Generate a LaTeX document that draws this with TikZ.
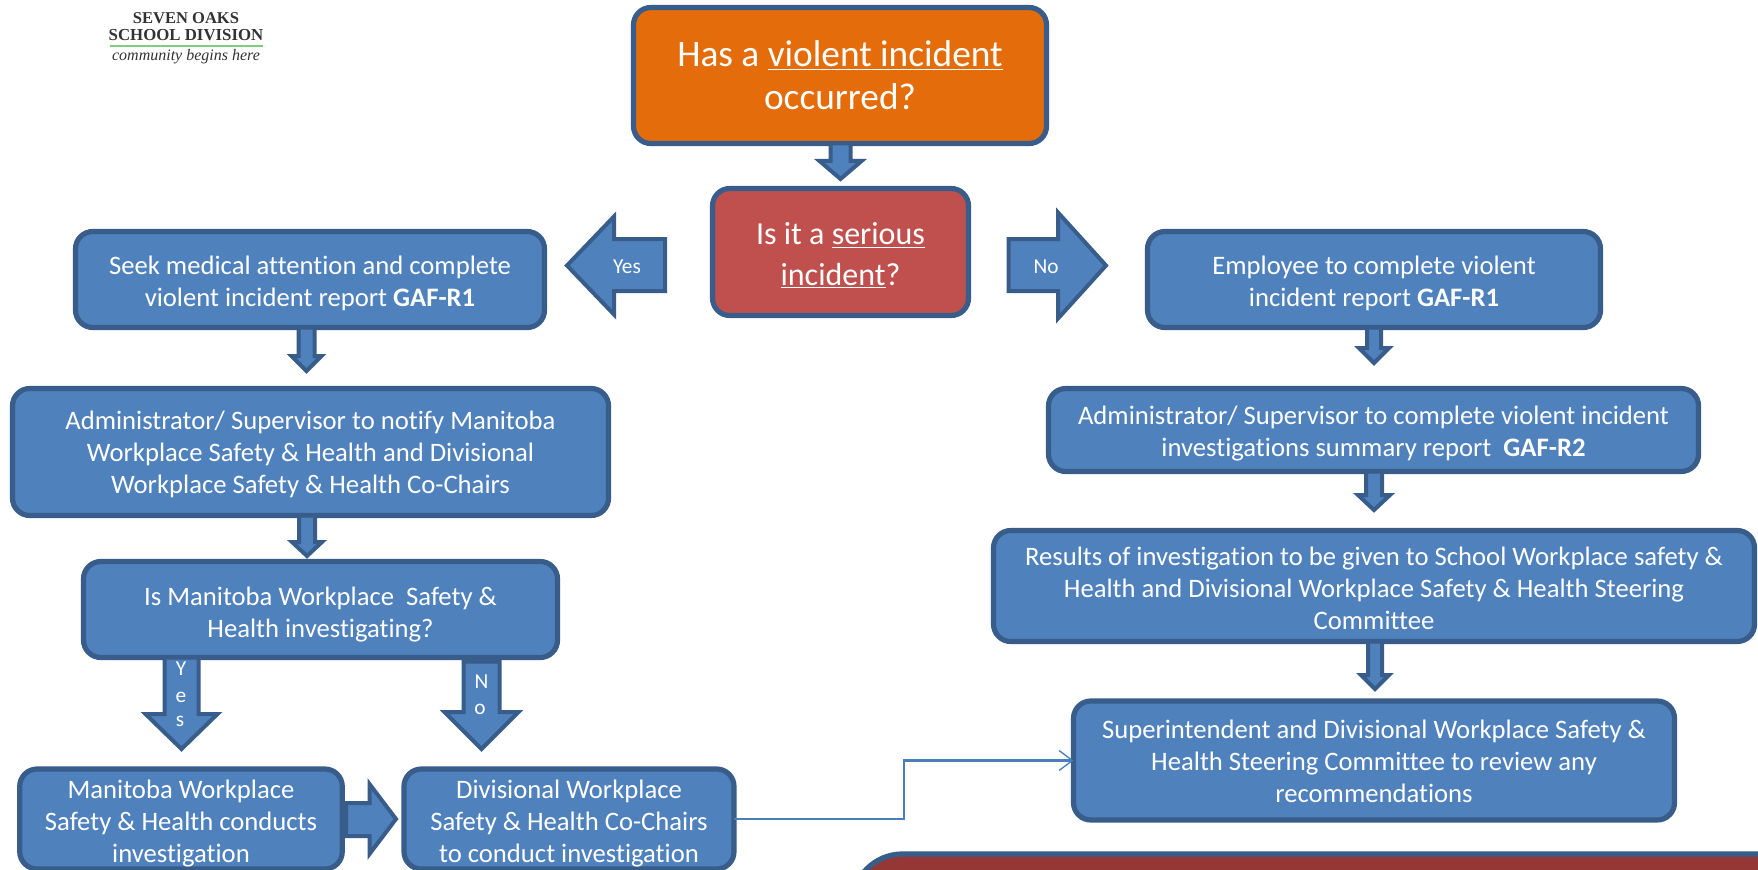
\documentclass[tikz,border=0pt]{standalone}
\usetikzlibrary{arrows.meta}
\usepackage{fontspec}
\setmainfont{Carlito}[Ligatures=NoCommon]
\newfontfamily\logofont{Liberation Serif}
\definecolor{boxblue}{HTML}{4F81BD}
\definecolor{edgeblue}{HTML}{385D8A}
\definecolor{orangefill}{HTML}{E46C0A}
\definecolor{redfill}{HTML}{C0504D}
\definecolor{darkred}{HTML}{953735}
\definecolor{linkblue}{HTML}{4A7EBB}
\newcommand{\fsz}[2]{\fontsize{#1}{#2}\selectfont}
% move the text of a box down by #1 pt: a taller first line, the box stays put
\newcommand{\dn}[1]{\rule{0pt}{\dimexpr 14pt+#1pt+#1pt\relax}}
\tikzset{
  x=0.75pt,y=-0.75pt,
  bx/.style={draw=edgeblue,fill=boxblue,line width=3.9pt,rounded corners=13pt,
    outer sep=0pt,inner sep=0pt,text=white,align=center,font=\fsz{20}{24}},
  barrow/.style={draw=edgeblue,fill=boxblue,line width=3pt,miter limit=10},
  lbl/.style={text=white,inner sep=0pt,font=\fsz{16}{18}},
  logotxt/.style={inner sep=0pt,text=black!80,font=\logofont},
}
% \downblock{from}{to}{cx}{shaft half}{head half}{head base y}{tip y}{top offset}
\newcommand{\downblock}[8]{%
  \coordinate (tmpc) at (#3,0);
  \draw[barrow] ([yshift=#8*0.75pt]tmpc |- #1.south) -- ++(#4,0) |- (#3+#5,#6) -- (#3,#7)
     -- (#3-#5,#6) -| ([xshift=#4*-0.75pt,yshift=#8*0.75pt]tmpc |- #1.south) -- cycle;
}
\begin{document}
\begin{tikzpicture}
\useasboundingbox (0,0) rectangle (1758,870);
\clip (0,0) rectangle (1758,870);
\fill[white] (0,0) rectangle (1758,870);

% logo
\node[logotxt,font=\logofont\bfseries\fsz{12.4}{14}] (logoa) at (186,18) {SEVEN OAKS};
\node[logotxt,font=\logofont\bfseries\fsz{12.6}{14}] (logob) at (186,35.5) {SCHOOL DIVISION};
\node[logotxt,font=\logofont\itshape\fsz{12}{14}] (logoc) at (186,57) {community begins here};
\fill[green!45!gray!70] (110,45) rectangle (263,47);

% boxes
\node[bx,fill=orangefill,minimum width=413*0.75pt,minimum height=136*0.75pt,font=\fsz{28}{32.3}] (violent) at (840,75.5)
  {Has a \underline{violent incident}\\occurred?};
\node[bx,fill=redfill,minimum width=256*0.75pt,minimum height=127*0.75pt,font=\fsz{24}{30.5}] (serious) at (840.5,252)
  {\dn{4}Is it a \underline{serious}\\\underline{incident}?};
\node[bx,minimum width=469*0.75pt,minimum height=96*0.75pt] (seek) at (310,279.5)
  {\dn{2.5}Seek medical attention and complete\\violent incident report \textbf{GAF-R1}};
\node[bx,minimum width=596*0.75pt,minimum height=127*0.75pt] (notify) at (310.5,452)
  {\dn{1.7}Administrator/ Supervisor to notify Manitoba\\Workplace Safety \& Health and Divisional\\Workplace Safety \& Health Co-Chairs};
\node[bx,minimum width=474*0.75pt,minimum height=96*0.75pt] (ismb) at (320.5,609.5)
  {\dn{3.7}Is Manitoba Workplace\ \ Safety \&\\Health investigating?};
\node[bx,minimum width=322.5*0.75pt,minimum height=100*0.75pt] (mbws) at (181,819)
  {\dn{3.4}Manitoba Workplace\\Safety \& Health conducts\\investigation};
\node[bx,minimum width=330*0.75pt,minimum height=100*0.75pt] (div) at (569,819)
  {\dn{3.4}Divisional Workplace\\Safety \& Health Co-Chairs\\to conduct investigation};
\node[bx,minimum width=453*0.75pt,minimum height=96*0.75pt] (emp) at (1374,279.5)
  {\dn{2.5}Employee to complete violent\\incident report \textbf{GAF-R1}};
\node[bx,minimum width=650*0.75pt,minimum height=83*0.75pt] (adminr) at (1373.5,430)
  {\dn{2.5}Administrator/ Supervisor to complete violent incident\\investigations summary report\ \ \textbf{GAF-R2}};
\node[bx,minimum width=761*0.75pt,minimum height=111*0.75pt] (results) at (1374,586)
  {\dn{1.7}Results of investigation to be given to School Workplace safety \&\\Health and Divisional Workplace Safety \& Health Steering\\Committee};
\node[bx,minimum width=601*0.75pt,minimum height=119*0.75pt] (super) at (1374,760.5)
  {\dn{0.8}Superintendent and Divisional Workplace Safety \&\\Health Steering Committee to review any\\recommendations};
\node[bx,fill=darkred,rounded corners=38pt,line width=4pt,minimum width=1100*0.75pt,minimum height=200*0.75pt,anchor=north west] (dark) at (852,854) {};

% block arrows
\downblock{violent}{serious}{840.5}{10}{21}{161}{179}{0}
\downblock{seek}{notify}{306.5}{8}{15}{356}{371}{0}
\downblock{notify}{ismb}{307}{8}{15}{542}{556}{0}
\downblock{ismb}{mbws}{181.5}{17}{36}{714}{749}{0}
\downblock{ismb}{div}{481.5}{18}{37}{712}{749}{-4}
\downblock{emp}{adminr}{1374}{7}{15}{348}{363}{0}
\downblock{adminr}{results}{1374}{8}{16}{495}{510}{0}
\downblock{results}{super}{1375}{7}{14}{675}{689}{0}

% horizontal block arrows
\draw[barrow] (665,239) -- (614,239) -- (614,216.5) -- (567,265.5) -- (614,314.5) -- (614,291) -- (665,291) -- cycle;
\draw[barrow] (1008.5,239) -- (1058,239) -- (1058,212.5) -- (1106,265.5) -- (1058,318.5) -- (1058,291) -- (1008.5,291) -- cycle;
\draw[barrow] (346,803) -- (369.5,803) -- (369.5,784) -- (396,819) -- (369.5,854) -- (369.5,836) -- (346,836) -- cycle;

% labels on arrows
\node[lbl] (yes) at (627,267) {Yes};
\node[lbl] (no) at (1046,267) {No};
\node[lbl] (y1) at (181,669) {Y};
\node[lbl] (y2) at (181,697) {e};
\node[lbl] (y3) at (180,721) {s};
\node[lbl] (n1) at (481.5,682) {N};
\node[lbl] (n2) at (480,709) {o};

% connector
\coordinate (bend) at (904,760.5);
\draw[linkblue,line width=1.6pt,-{Straight Barb[length=10pt,width=15pt,line width=1pt]}] (div.east) -| (bend) -- (super.west);
\end{tikzpicture}
\end{document}
